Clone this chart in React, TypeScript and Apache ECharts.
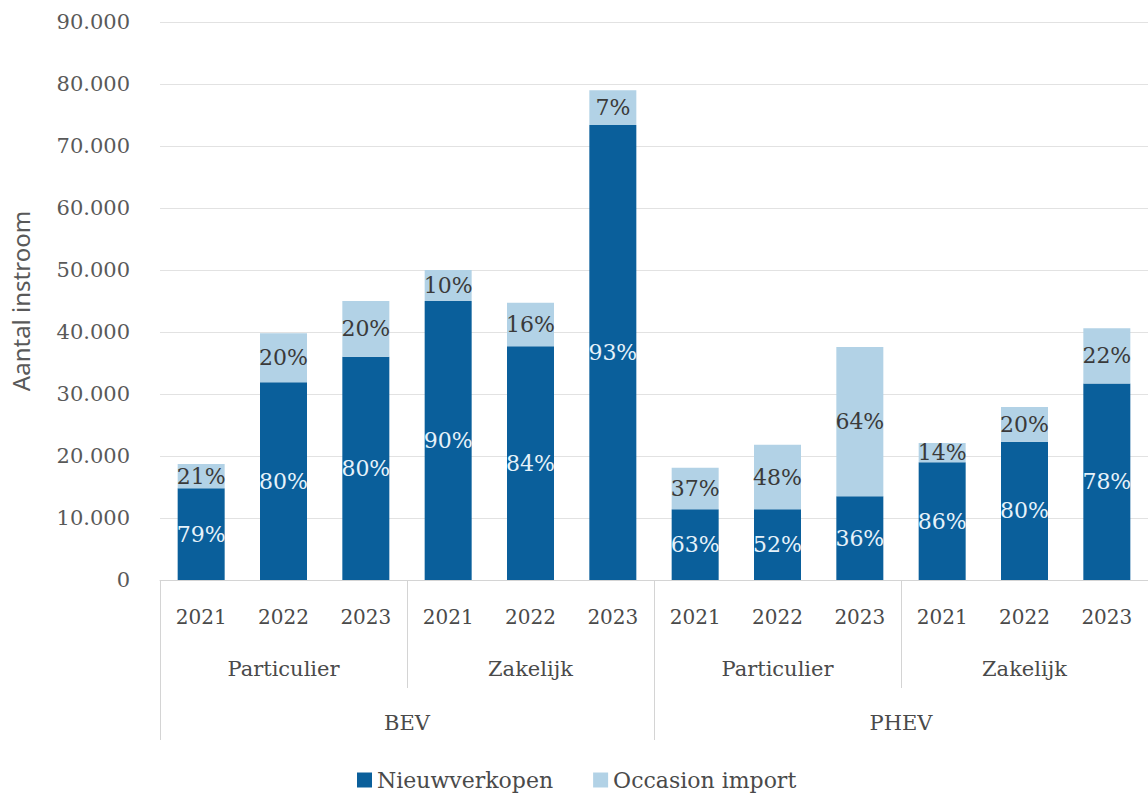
import React, { useEffect, useRef } from "react";
import * as echarts from "echarts";

const years = ["2021", "2022", "2023", "2021", "2022", "2023", "2021", "2022", "2023", "2021", "2022", "2023"];
const segments = ["BEV|Particulier", "BEV|Zakelijk", "PHEV|Particulier", "PHEV|Zakelijk"];
const fuelTypes = ["BEV", "PHEV"];
const nieuwverkopen = [14800, 31900, 36000, 45000, 37700, 73400, 11400, 11400, 13500, 19000, 22300, 31700];
const occasionImport = [3900, 7900, 9000, 5000, 7000, 5600, 6700, 10400, 24100, 3100, 5600, 8900];
const yTicks = { min: 0, max: 90000, interval: 10000 };

const SERIF = "'DejaVu Serif', serif";
const SANS = "'Noto Sans', sans-serif";
const DARK = "#0a5f9b";
const LIGHT = "#b2d2e6";
const SEP = "#d4d4d4";

function fmtThousands(v: number): string {
  return String(v).replace(/\B(?=(\d{3})+(?!\d))/g, ".");
}

function pct(a: number, i: number, other: number[]): string {
  const total = a + other[i];
  return Math.round((a / total) * 100) + "%";
}

export default function App() {
  const ref = useRef<HTMLDivElement>(null);
  useEffect(() => {
    if (!ref.current) return;
    const chart = echarts.init(ref.current, undefined, { renderer: "svg" });
    chart.setOption({
      animation: false,
      backgroundColor: "#ffffff",
      grid: { left: 160, top: 22, width: 994, height: 558 },
      legend: {
        left: 352,
        top: 763,
        itemWidth: 15,
        itemHeight: 15,
        itemGap: 40,
        icon: "rect",
        textStyle: { fontFamily: SERIF, fontSize: 22, lineHeight: 24, color: "#4a4a4a" },
        data: ["Nieuwverkopen", "Occasion import"],
      },
      xAxis: [
        {
          type: "category",
          position: "bottom",
          data: years,
          axisLine: { show: true, lineStyle: { color: SEP, width: 1 } },
          axisTick: { show: false },
          axisLabel: {
            interval: 0,
            margin: 27,
            fontFamily: SERIF,
            fontSize: 20,
            color: "#4a4a4a",
          },
        },
        {
          type: "category",
          position: "bottom",
          data: segments,
          axisLine: { show: false },
          axisTick: {
            show: true,
            interval: 0,
            alignWithLabel: false,
            length: 108,
            lineStyle: { color: SEP, width: 1 },
          },
          axisLabel: {
            interval: 0,
            margin: 78,
            fontFamily: SERIF,
            fontSize: 21,
            color: "#4a4a4a",
            formatter: (v: string) => v.split("|")[1],
          },
        },
        {
          type: "category",
          position: "bottom",
          data: fuelTypes,
          axisLine: { show: false },
          axisTick: {
            show: true,
            interval: 0,
            alignWithLabel: false,
            length: 160,
            lineStyle: { color: SEP, width: 1 },
          },
          axisLabel: {
            interval: 0,
            margin: 132,
            fontFamily: SERIF,
            fontSize: 21,
            color: "#4a4a4a",
          },
        },
      ],
      yAxis: {
        type: "value",
        min: yTicks.min,
        max: yTicks.max,
        interval: yTicks.interval,
        name: "Aantal instroom",
        nameLocation: "middle",
        nameGap: 128,
        nameTextStyle: { fontFamily: SANS, fontSize: 24, color: "#595959" },
        axisLine: { show: false },
        axisTick: { show: false },
        splitLine: { lineStyle: { color: "#e2e2e2", width: 1 } },
        axisLabel: {
          margin: 30,
          fontFamily: SERIF,
          fontSize: 21,
          color: "#595959",
          formatter: (v: number) => fmtThousands(v),
        },
      },
      series: [
        {
          name: "Nieuwverkopen",
          type: "bar",
          stack: "total",
          xAxisIndex: 0,
          barWidth: 47,
          data: nieuwverkopen,
          itemStyle: { color: DARK },
          label: {
            show: true,
            position: "inside",
            fontFamily: SERIF,
            fontSize: 22,
            color: "#e6f2fa",
            formatter: (p: any) => pct(nieuwverkopen[p.dataIndex], p.dataIndex, occasionImport),
          },
        },
        {
          name: "Occasion import",
          type: "bar",
          stack: "total",
          xAxisIndex: 0,
          barWidth: 47,
          data: occasionImport,
          itemStyle: { color: LIGHT },
          label: {
            show: true,
            position: "inside",
            fontFamily: SERIF,
            fontSize: 22,
            color: "#3a3a3a",
            formatter: (p: any) => pct(occasionImport[p.dataIndex], p.dataIndex, nieuwverkopen),
          },
        },
      ],
    });
    return () => chart.dispose();
  }, []);
  return (
    <div
      ref={ref}
      style={{ position: "fixed", left: 0, top: 0, width: 1148, height: 796, background: "#fff" }}
    />
  );
}
